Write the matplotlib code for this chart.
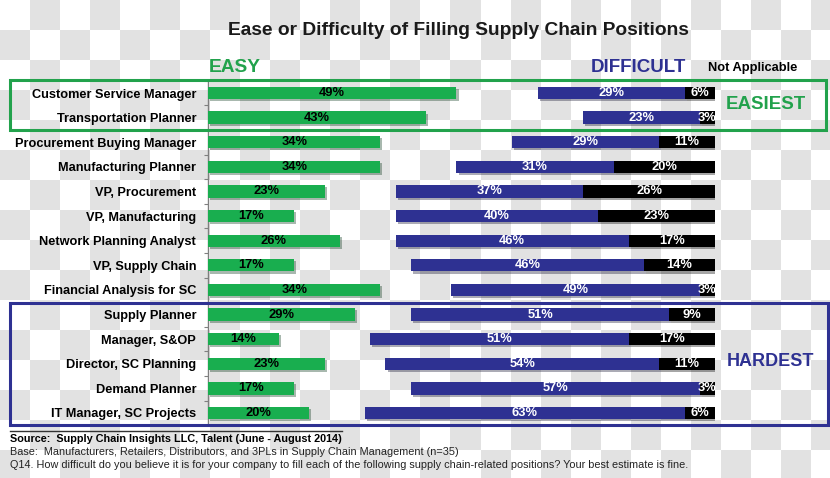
import numpy as np
import matplotlib
matplotlib.use("Agg")
import matplotlib.pyplot as plt
from matplotlib.patches import Rectangle
from matplotlib.colors import ListedColormap
import matplotlib.patheffects as pe

categories = ["Customer Service Manager", "Transportation Planner",
              "Procurement Buying Manager", "Manufacturing Planner",
              "VP, Procurement", "VP, Manufacturing", "Network Planning Analyst",
              "VP, Supply Chain", "Financial Analysis for SC", "Supply Planner",
              "Manager, S&OP", "Director, SC Planning", "Demand Planner",
              "IT Manager, SC Projects"]
easy = [49, 43, 34, 34, 23, 17, 26, 17, 34, 29, 14, 23, 17, 20]
difficult = [29, 23, 29, 31, 37, 40, 46, 46, 49, 51, 51, 54, 57, 63]
not_applicable = [6, 3, 11, 20, 26, 23, 17, 14, 3, 9, 17, 11, 3, 6]

GREEN = "#19ae4f"
BLUE = "#2e3192"
BOXGREEN = "#22a24c"
W, H = 830, 478
BOLD = ["Liberation Sans", "DejaVu Sans"]
NARROW = ["Liberation Sans Narrow", "Liberation Sans", "DejaVu Sans"]

fig = plt.figure(figsize=(W / 100, H / 100), dpi=100)

# checkerboard background (transparency pattern)
bg = fig.add_axes([0, 0, 1, 1], zorder=-10)
r, c = np.indices((16, 28))
bg.imshow((r + c) % 2, cmap=ListedColormap(["#ffffff", "#e2e2e2"]),
          extent=(0, 28 * 30, 16 * 30, 0), interpolation="nearest", aspect="auto")
bg.set_xlim(0, W)
bg.set_ylim(H, 0)
bg.axis("off")

# main axes
top_px, bot_px = 80.7, 425.3
left_px, right_px = 208, 715
ax = fig.add_axes([left_px / W, 1 - bot_px / H, (right_px - left_px) / W, (bot_px - top_px) / H])
ax.set_facecolor("none")
n = len(categories)
y = np.arange(n)
shadow = [pe.SimplePatchShadow(offset=(1.5, -1.5), alpha=0.35), pe.Normal()]
bh = 0.5

ax.barh(y, easy, height=bh, color=GREEN, path_effects=shadow, zorder=3)
start = [100 - d - a for d, a in zip(difficult, not_applicable)]
ax.barh(y, difficult, left=start, height=bh, color=BLUE, path_effects=shadow, zorder=3)
ax.barh(y, not_applicable, left=[s + d for s, d in zip(start, difficult)],
        height=bh, color="black", path_effects=shadow, zorder=3)

LFS = 9.3
for i in range(n):
    ax.text(easy[i] / 2, i, f"{easy[i]}%", ha="center", va="center",
            fontsize=LFS, fontweight="bold", color="black", family=BOLD, zorder=4)
    ax.text(start[i] + difficult[i] / 2, i, f"{difficult[i]}%", ha="center", va="center",
            fontsize=LFS, fontweight="bold", color="white", family=BOLD, zorder=4)
    ax.text(start[i] + difficult[i] + not_applicable[i] / 2, i, f"{not_applicable[i]}%",
            ha="center", va="center", fontsize=LFS, fontweight="bold", color="white",
            family=BOLD, zorder=4)

ax.set_xlim(0, 100)
ax.set_ylim(n - 0.5, -0.5)
ax.set_yticks(y)
ax.set_yticklabels(categories, fontsize=9.15, fontweight="bold", family=BOLD)
ax.set_yticks(np.arange(n + 1) - 0.5, minor=True)
ax.tick_params(axis="y", which="major", length=0, pad=8.5)
ax.tick_params(axis="y", which="minor", length=3, color="#808080", width=0.8)
ax.set_xticks([])
for s in ["top", "right", "bottom"]:
    ax.spines[s].set_visible(False)
ax.spines["left"].set_color("#7f7f7f")
ax.spines["left"].set_linewidth(1.0)

# overlay for annotations
ov = fig.add_axes([0, 0, 1, 1], zorder=5)
ov.set_facecolor("none")
ov.set_xlim(0, W)
ov.set_ylim(H, 0)
ov.axis("off")

ov.text(458, 30, "Ease or Difficulty of Filling Supply Chain Positions", ha="center",
        va="center", fontsize=13.8, fontweight="bold", family=NARROW, color="#1a1a1a")
ov.text(209, 67, "EASY", ha="left", va="center", fontsize=13.8, fontweight="bold",
        family=NARROW, color=BOXGREEN)
ov.text(686, 67, "DIFFICULT", ha="right", va="center", fontsize=13.5, fontweight="bold",
        family=NARROW, color=BLUE)
ov.text(753, 68, "Not Applicable", ha="center", va="center", fontsize=9.3,
        fontweight="bold", family=NARROW, color="black")

ov.add_patch(Rectangle((10, 80), 816, 50, fill=False, edgecolor=BOXGREEN, lw=2.2))
ov.text(766, 104, "EASIEST", ha="center", va="center", fontsize=13.5, fontweight="bold",
        family=NARROW, color=BOXGREEN)
ov.add_patch(Rectangle((10, 303), 818, 122, fill=False, edgecolor=BLUE, lw=2.2))
ov.text(770, 361, "HARDEST", ha="center", va="center", fontsize=13.0, fontweight="bold",
        family=BOLD, color=BLUE)

ov.plot([10, 342], [431, 431], color="#333333", lw=1)
ov.text(10, 439, "Source:  Supply Chain Insights LLC, Talent (June - August 2014)",
        ha="left", va="center", fontsize=7.8, fontweight="bold", family=BOLD, color="black")
ov.text(10, 452, "Base:  Manufacturers, Retailers, Distributors, and 3PLs in Supply Chain Management (n=35)",
        ha="left", va="center", fontsize=7.8, family=BOLD, color="#222222")
ov.text(10, 465, "Q14. How difficult do you believe it is for your company to fill each of the following supply chain-related positions? Your best estimate is fine.",
        ha="left", va="center", fontsize=7.8, family=BOLD, color="#222222")

fig.savefig("out.png", dpi=100)
